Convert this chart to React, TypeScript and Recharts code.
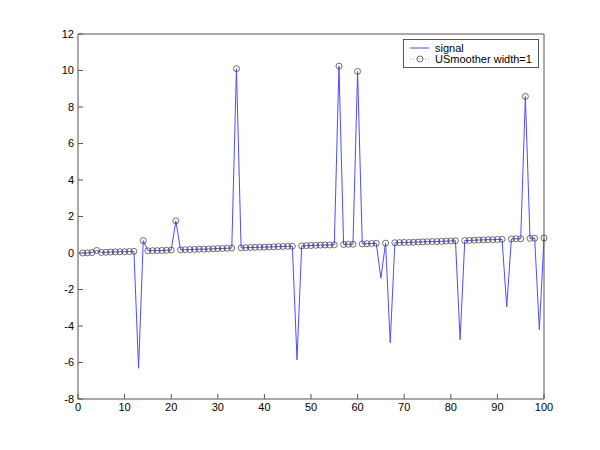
import { Line, LineChart, XAxis, YAxis } from "recharts";

const xValues = [
  1, 2, 3, 4, 5, 6, 7, 8, 9, 10, 11, 12, 13, 14, 15, 16, 17, 18, 19, 20,
  21, 22, 23, 24, 25, 26, 27, 28, 29, 30, 31, 32, 33, 34, 35, 36, 37, 38, 39, 40,
  41, 42, 43, 44, 45, 46, 47, 48, 49, 50, 51, 52, 53, 54, 55, 56, 57, 58, 59, 60,
  61, 62, 63, 64, 65, 66, 67, 68, 69, 70, 71, 72, 73, 74, 75, 76, 77, 78, 79, 80,
  81, 82, 83, 84, 85, 86, 87, 88, 89, 90, 91, 92, 93, 94, 95, 96, 97, 98, 99, 100,
];

const signal = [
  0.0, 0.01, 0.02, 0.14, 0.03, 0.04, 0.05, 0.06, 0.07, 0.07,
  0.08, 0.09, -6.32, 0.68, 0.12, 0.13, 0.13, 0.14, 0.15, 0.16,
  1.76, 0.17, 0.18, 0.19, 0.2, 0.21, 0.21, 0.22, 0.23, 0.24,
  0.25, 0.26, 0.27, 10.1, 0.28, 0.29, 0.3, 0.31, 0.32, 0.32,
  0.33, 0.34, 0.35, 0.36, 0.37, 0.37, -5.85, 0.39, 0.4, 0.41,
  0.42, 0.43, 0.44, 0.44, 0.45, 10.24, 0.47, 0.48, 0.48, 9.95,
  0.5, 0.51, 0.52, 0.53, -1.38, 0.54, -4.92, 0.56, 0.57, 0.58,
  0.58, 0.59, 0.6, 0.61, 0.62, 0.63, 0.63, 0.64, 0.65, 0.66,
  0.67, -4.75, 0.68, 0.69, 0.7, 0.71, 0.72, 0.73, 0.73, 0.74,
  0.75, -2.95, 0.77, 0.78, 0.78, 8.58, 0.8, 0.81, -4.2, 0.82,
];

// smoother output: the negative spikes are dropped (no marker there)
const smoother = [
  0.0, 0.01, 0.02, 0.14, 0.03, 0.04, 0.05, 0.06, 0.07, 0.07,
  0.08, 0.09, null, 0.68, 0.12, 0.13, 0.13, 0.14, 0.15, 0.16,
  1.76, 0.17, 0.18, 0.19, 0.2, 0.21, 0.21, 0.22, 0.23, 0.24,
  0.25, 0.26, 0.27, 10.1, 0.28, 0.29, 0.3, 0.31, 0.32, 0.32,
  0.33, 0.34, 0.35, 0.36, 0.37, 0.37, null, 0.39, 0.4, 0.41,
  0.42, 0.43, 0.44, 0.44, 0.45, 10.24, 0.47, 0.48, 0.48, 9.95,
  0.5, 0.51, 0.52, 0.53, null, 0.54, null, 0.56, 0.57, 0.58,
  0.58, 0.59, 0.6, 0.61, 0.62, 0.63, 0.63, 0.64, 0.65, 0.66,
  0.67, null, 0.68, 0.69, 0.7, 0.71, 0.72, 0.73, 0.73, 0.74,
  0.75, null, 0.77, 0.78, 0.78, 8.58, 0.8, 0.81, null, 0.82,
];

const xTicks = [0, 10, 20, 30, 40, 50, 60, 70, 80, 90, 100];
const yTicks = [-8, -6, -4, -2, 0, 2, 4, 6, 8, 10, 12];

const rows = xValues.map((x, i) => ({ x, signal: signal[i], smoother: smoother[i] }));

const FONT = "'Liberation Sans', Arial, sans-serif";
const AXIS = "#555";
const tickStyle = { fontSize: 11, fill: "#000", fontFamily: FONT };

function LegendBox() {
  return (
    <svg width={136} height={29}
         style={{ position: "absolute", left: 403, top: 39, fontFamily: FONT }}>
      <rect x={0.5} y={0.5} width={135} height={28} fill="#fff" stroke={AXIS} />
      <line x1={7} x2={26} y1={9} y2={9} stroke="#4d4dff" strokeWidth={1} />
      <text x={32} y={13} fontSize={11}>signal</text>
      <line x1={7} x2={27} y1={20} y2={20} stroke="#999" strokeWidth={1} strokeDasharray="1 2" />
      <circle cx={17} cy={20} r={3} fill="none" stroke="#333" strokeWidth={0.7} />
      <text x={32} y={24} fontSize={11}>USmoother width=1</text>
    </svg>
  );
}

export default function App() {
  return (
    <div style={{ position: "absolute", left: 0, top: 0, width: 600, height: 450, background: "#fff" }}>
      <LineChart width={600} height={450} data={rows}
                 margin={{ top: 33, right: 55, bottom: 50, left: 77 }}>
        <XAxis dataKey="x" type="number" domain={[0, 100]} ticks={xTicks} height={1}
               tickSize={-5} tickMargin={9} tick={tickStyle}
               axisLine={{ stroke: AXIS }} tickLine={{ stroke: AXIS }} />
        <XAxis xAxisId="top" orientation="top" type="number" domain={[0, 100]} ticks={xTicks}
               height={1} tickSize={-5} tick={false} allowDataOverflow
               axisLine={{ stroke: AXIS }} tickLine={{ stroke: AXIS }} />
        <YAxis type="number" domain={[-8, 12]} ticks={yTicks} width={1}
               tickSize={-5} tickMargin={9} tick={tickStyle}
               axisLine={{ stroke: AXIS }} tickLine={{ stroke: AXIS }} />
        <YAxis yAxisId="right" orientation="right" type="number" domain={[-8, 12]} ticks={yTicks}
               width={1} tickSize={-5} tick={false} allowDataOverflow
               axisLine={{ stroke: AXIS }} tickLine={{ stroke: AXIS }} />
        <Line dataKey="signal" stroke="#4d4dff" strokeWidth={1} dot={false}
              isAnimationActive={false} />
        <Line dataKey="smoother" stroke="none" strokeWidth={0}
              dot={{ r: 3, stroke: "#333", strokeWidth: 0.7, fill: "none" }}
              activeDot={false} isAnimationActive={false} />
      </LineChart>
      <LegendBox />
    </div>
  );
}
